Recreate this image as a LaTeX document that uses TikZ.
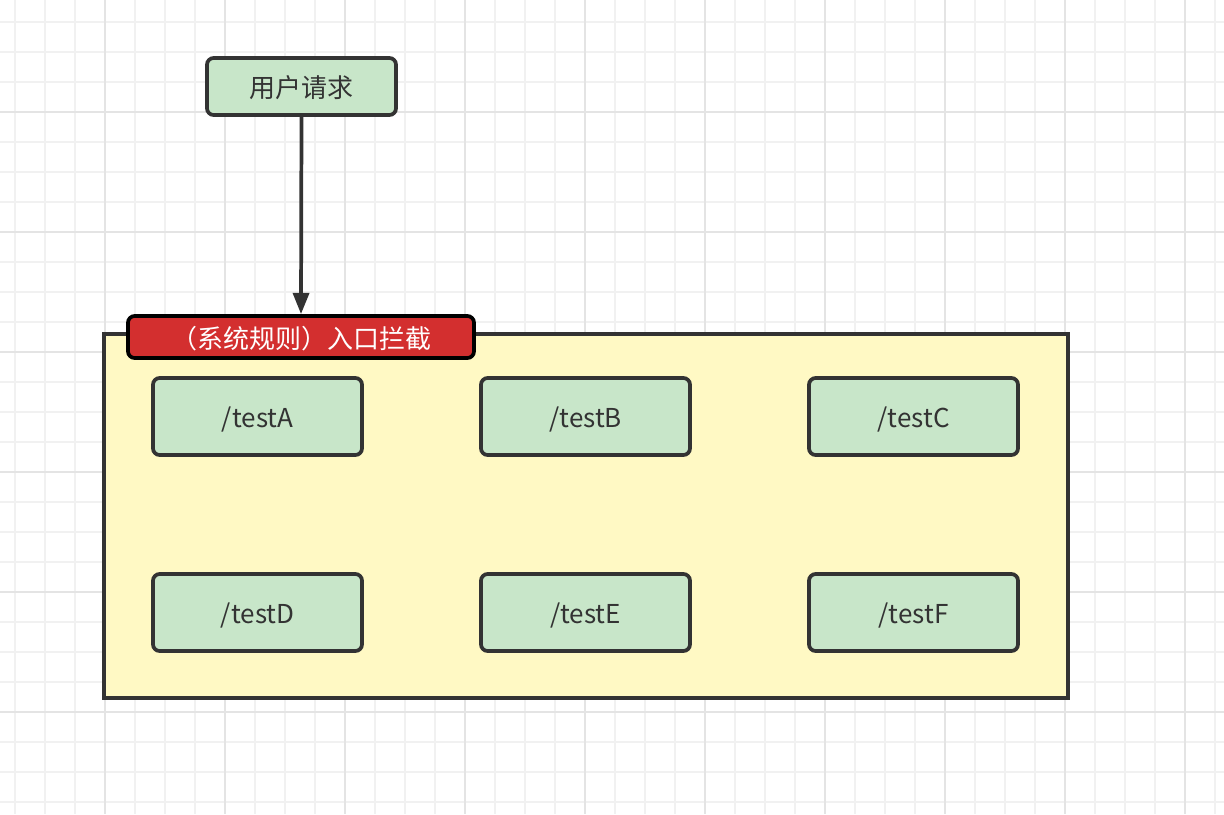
\documentclass[tikz,border=0pt]{standalone}
\usepackage{fontspec}
\setmainfont{Noto Sans CJK SC}
\usetikzlibrary{arrows.meta}
\definecolor{gridminor}{HTML}{F1F1F1}
\definecolor{gridmajor}{HTML}{E4E4E4}
\definecolor{boxgreen}{HTML}{C8E6C9}
\definecolor{boxyellow}{HTML}{FFF9C4}
\definecolor{labelred}{HTML}{D32F2F}
\definecolor{inkdark}{HTML}{333333}
\tikzset{
  greenbox/.style={draw=inkdark, fill=boxgreen, line width=2.8pt, rounded corners=5pt,
    text=inkdark, font=\fontsize{19.5}{22}\selectfont, inner sep=0pt,
    text height=17pt, text depth=0pt},
  container/.style={draw=inkdark, fill=boxyellow, line width=2.8pt, inner sep=0pt},
  redlabel/.style={draw=black, fill=labelred, line width=2.8pt, rounded corners=5pt,
    text=white, font=\fontsize{19.5}{22}\selectfont, inner sep=0pt,
    text height=17pt, text depth=0pt},
  flow/.style={draw=inkdark, line width=2.8pt, -{Triangle[length=16pt,width=12pt]}},
}
\begin{document}
\begin{tikzpicture}[x=0.75pt,y=-0.75pt]
\useasboundingbox (0,0) rectangle (1224,814);
\fill[white] (0,0) rectangle (1224,814);
% minor grid
\foreach \x in {15,45,...,1215} \draw[gridminor, line width=1pt] (\x,0) -- (\x,814);
\foreach \y in {22,52,...,812} \draw[gridminor, line width=1pt] (0,\y) -- (1224,\y);
% major grid
\foreach \x in {105,225,...,1185} \draw[gridmajor, line width=1.3pt] (\x,0) -- (\x,814);
\foreach \y in {112,232,...,712} \draw[gridmajor, line width=1.3pt] (0,\y) -- (1224,\y);

\node[greenbox, minimum width=141.75pt, minimum height=42.75pt] (req) at (301.5,86.5) {用户请求};

\node[container, minimum width=723pt, minimum height=273pt] (cont) at (586,516) {};

\node[redlabel, minimum width=259.5pt, minimum height=31.5pt] (lab) at (301,337) {（系统规则）入口拦截};

\node[greenbox, minimum width=156.75pt, minimum height=57.75pt] (a) at (257.5,416.5) {/testA};
\node[greenbox, minimum width=156.75pt, minimum height=57.75pt] (b) at (585.5,416.5) {/testB};
\node[greenbox, minimum width=156.75pt, minimum height=57.75pt] (c) at (913.5,416.5) {/testC};
\node[greenbox, minimum width=156.75pt, minimum height=57.75pt] (d) at (257.5,612.5) {/testD};
\node[greenbox, minimum width=156.75pt, minimum height=57.75pt] (e) at (585.5,612.5) {/testE};
\node[greenbox, minimum width=156.75pt, minimum height=57.75pt] (f) at (913.5,612.5) {/testF};

\draw[flow] (req.south) -- (lab.north);
\end{tikzpicture}
\end{document}
